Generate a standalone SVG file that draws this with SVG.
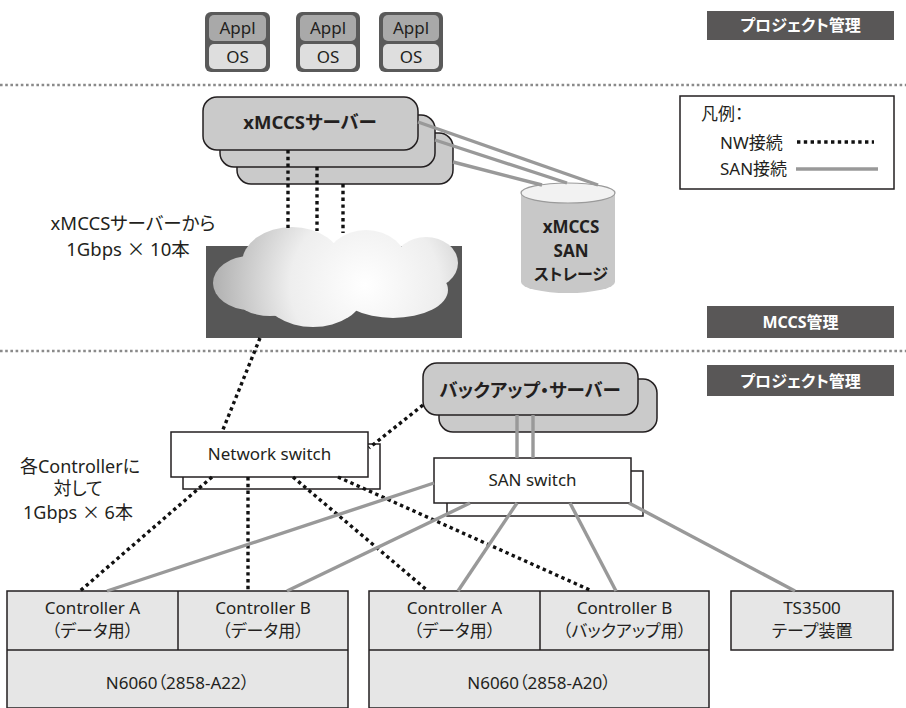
<svg xmlns="http://www.w3.org/2000/svg" width="906" height="708" viewBox="0 0 906 708">
<style>
text{font-family:"Noto Sans","Noto Sans CJK JP",sans-serif;fill:#231f20;font-feature-settings:"palt" 1;}
.c{text-anchor:middle;}
.b{font-weight:bold;}
.x{font-family:"Noto Sans CJK JP",sans-serif;font-feature-settings:normal;}
.lbl{fill:#ffffff;font-weight:bold;font-size:16px;text-anchor:middle;}
.div{stroke:#8a8a8a;stroke-width:2.6;stroke-dasharray:2.6 2.6;fill:none;}
.nw{stroke:#111;stroke-width:3.4;stroke-dasharray:3.4 3.4;fill:none;}
.san{stroke:#999;stroke-width:3.4;fill:none;}
.srv{fill:#cacaca;stroke:#231f20;stroke-width:1.5;}
.sw{fill:#ffffff;stroke:#231f20;stroke-width:1.5;}
.swb{fill:none;stroke:#231f20;stroke-width:1.5;}
.ctl{fill:#e6e6e6;stroke:#231f20;stroke-width:1.5;}
</style>
<defs>
<radialGradient id="cg" gradientUnits="userSpaceOnUse" cx="365" cy="285" r="150">
<stop offset="0" stop-color="#ffffff"/>
<stop offset="0.5" stop-color="#eeeeee"/>
<stop offset="1" stop-color="#b2b2b2"/>
</radialGradient>
</defs>
<rect width="906" height="708" fill="#ffffff"/>

<!-- section dividers -->
<line class="div" x1="0" y1="85" x2="906" y2="85"/>
<line class="div" x1="0" y1="351" x2="906" y2="351"/>

<!-- section labels -->
<g id="label-project-top">
<rect x="707" y="11" width="187" height="29" fill="#595757"/>
<text class="lbl" x="800.5" y="31">プロジェクト管理</text>
</g>
<g id="label-mccs">
<rect x="707" y="306" width="187" height="32" fill="#595757"/>
<text class="lbl" x="800.5" y="328">MCCS管理</text>
</g>
<g id="label-project-bottom">
<rect x="707" y="365" width="187" height="31" fill="#595757"/>
<text class="lbl" x="800.5" y="387">プロジェクト管理</text>
</g>

<!-- Appl/OS -->
<g id="vm1">
<rect x="205" y="12" width="65" height="60" rx="6" fill="#5a5a5a"/>
<rect x="209" y="15" width="57" height="26" rx="5" fill="#a9a9a9"/>
<rect x="209" y="44" width="57" height="25" rx="5" fill="#dedede"/>
<text class="c" x="237.5" y="34" font-size="17">Appl</text>
<text class="c" x="237.5" y="63" font-size="17">OS</text>
</g>
<g id="vm2">
<rect x="296" y="12" width="64" height="60" rx="6" fill="#5a5a5a"/>
<rect x="300" y="15" width="56" height="26" rx="5" fill="#a9a9a9"/>
<rect x="300" y="44" width="56" height="25" rx="5" fill="#dedede"/>
<text class="c" x="328" y="34" font-size="17">Appl</text>
<text class="c" x="328" y="63" font-size="17">OS</text>
</g>
<g id="vm3">
<rect x="379" y="12" width="64" height="60" rx="6" fill="#5a5a5a"/>
<rect x="383" y="15" width="56" height="26" rx="5" fill="#a9a9a9"/>
<rect x="383" y="44" width="56" height="25" rx="5" fill="#dedede"/>
<text class="c" x="411" y="34" font-size="17">Appl</text>
<text class="c" x="411" y="63" font-size="17">OS</text>
</g>

<!-- legend -->
<g id="legend">
<rect x="680" y="96" width="214" height="93" fill="#ffffff" stroke="#231f20" stroke-width="1.5"/>
<text x="701" y="120" font-size="17">凡例：</text>
<text x="720" y="149" font-size="17">NW接続</text>
<text x="720" y="175" font-size="17">SAN接続</text>
<line class="nw" x1="797" y1="142" x2="874" y2="142"/>
<line class="san" x1="796" y1="169" x2="878" y2="169"/>
</g>

<!-- xMCCS servers -->
<g id="xmccs-server">
<rect class="srv" x="237" y="133" width="216" height="51" rx="14"/>
<rect class="srv" x="220" y="115" width="215" height="52" rx="14"/>
<rect class="srv" x="203" y="97" width="215" height="53" rx="14"/>
<text class="c b" x="310" y="129" font-size="18.5">xMCCSサーバー</text>
</g>

<!-- storage -->
<g id="xmccs-storage">
<path d="M521,193 L521,282 A47,11 0 0 0 615,282 L615,193 Z" fill="#c8c8c8"/>
<ellipse cx="568" cy="193" rx="47" ry="10" fill="#f2f2f2" stroke="#9a9a9a" stroke-width="1.2"/>
<text class="c b" x="571" y="233" font-size="17">xMCCS</text>
<text class="c b" x="571" y="257" font-size="17">SAN</text>
<text class="c b" x="571" y="280" font-size="16">ストレージ</text>
</g>

<!-- cloud -->
<g id="network-cloud">
<rect x="206" y="246" width="256" height="92" fill="#575757"/>
<g fill="url(#cg)">
<ellipse cx="250" cy="283" rx="37" ry="27"/>
<ellipse cx="292" cy="263" rx="50" ry="36"/>
<ellipse cx="366" cy="266" rx="42" ry="36"/>
<ellipse cx="426" cy="263" rx="32" ry="26"/>
<ellipse cx="393" cy="290" rx="55" ry="28"/>
<ellipse cx="313" cy="294" rx="50" ry="33"/>
<ellipse cx="270" cy="296" rx="35" ry="20"/>
</g>
</g>

<g id="note-xmccs">
<text class="c" x="133" y="230" font-size="18.5">xMCCSサーバーから</text>
<text class="c" x="128" y="256" font-size="18.5">1Gbps <tspan class="x">×</tspan> 10本</text>
</g>

<g id="note-controller">
<text class="c" x="80" y="473" font-size="18">各Controllerに</text>
<text class="c" x="78" y="495" font-size="18">対して</text>
<text class="c" x="78" y="519" font-size="18">1Gbps <tspan class="x">×</tspan> 6本</text>
</g>

<!-- backup server -->
<g id="backup-server">
<rect class="srv" x="439" y="379" width="218" height="53" rx="14"/>
<rect class="srv" x="423" y="363" width="215" height="52" rx="14"/>
<text class="c b" x="530" y="397" font-size="18.5">バックアップ・サーバー</text>
</g>

<!-- network switch -->
<g id="network-switch">
<rect class="swb" x="183" y="444" width="197" height="45"/>
<rect class="sw" x="171" y="432" width="197" height="45"/>
<text class="c" x="269.5" y="460" font-size="17">Network switch</text>
</g>

<!-- SAN switch -->
<g id="san-switch">
<rect class="swb" x="447" y="471" width="196" height="45"/>
<rect class="sw" x="434" y="458" width="197" height="45"/>
<text class="c" x="532.5" y="486" font-size="17">SAN switch</text>
</g>

<!-- storage systems -->
<g id="n6060-a22">
<rect class="ctl" x="7" y="591" width="341" height="117"/>
<line x1="7" y1="650" x2="348" y2="650" stroke="#231f20" stroke-width="1.5"/>
<line x1="178" y1="591" x2="178" y2="650" stroke="#231f20" stroke-width="1.5"/>
<text class="c" x="92.5" y="614" font-size="17">Controller A</text>
<text class="c" x="92.5" y="637" font-size="17">（データ用）</text>
<text class="c" x="263" y="614" font-size="17">Controller B</text>
<text class="c" x="263" y="637" font-size="17">（データ用）</text>
<text class="c" x="177.5" y="689" font-size="17">N6060（2858-A22）</text>
</g>
<g id="n6060-a20">
<rect class="ctl" x="369" y="591" width="340" height="117"/>
<line x1="369" y1="650" x2="709" y2="650" stroke="#231f20" stroke-width="1.5"/>
<line x1="540" y1="591" x2="540" y2="650" stroke="#231f20" stroke-width="1.5"/>
<text class="c" x="454.5" y="614" font-size="17">Controller A</text>
<text class="c" x="454.5" y="637" font-size="17">（データ用）</text>
<text class="c" x="624.5" y="614" font-size="17">Controller B</text>
<text class="c" x="624.5" y="637" font-size="17">（バックアップ用）</text>
<text class="c" x="539" y="689" font-size="17">N6060（2858-A20）</text>
</g>
<g id="ts3500">
<rect class="ctl" x="731" y="591" width="162" height="59"/>
<text class="c" x="812" y="614" font-size="17">TS3500</text>
<text class="c" x="812" y="637" font-size="17">テープ装置</text>
</g>

<!-- connectors -->
<g id="connectors">
<line class="nw" x1="288" y1="150" x2="288" y2="228"/>
<line class="nw" x1="317" y1="167" x2="317" y2="231"/>
<line class="nw" x1="343" y1="184" x2="343" y2="233"/>
<line class="san" x1="418" y1="122" x2="598" y2="185"/>
<line class="san" x1="435" y1="140" x2="567" y2="183"/>
<line class="san" x1="453" y1="162" x2="542" y2="185"/>
<line class="nw" x1="260" y1="338" x2="222" y2="432"/>
<line class="nw" x1="423" y1="405" x2="369" y2="448"/>
<line class="nw" x1="212" y1="477" x2="80" y2="591"/>
<line class="nw" x1="248" y1="477" x2="248" y2="591"/>
<line class="nw" x1="293" y1="477" x2="428" y2="591"/>
<line class="nw" x1="338" y1="477" x2="592" y2="591"/>
<line class="san" x1="517" y1="415" x2="517" y2="458"/>
<line class="san" x1="533" y1="415" x2="533" y2="458"/>
<line class="san" x1="434" y1="483" x2="107" y2="591"/>
<line class="san" x1="470" y1="503" x2="287" y2="591"/>
<line class="san" x1="517" y1="503" x2="458" y2="591"/>
<line class="san" x1="570" y1="503" x2="616" y2="591"/>
<line class="san" x1="629" y1="503" x2="795" y2="591"/>
</g>
</svg>
